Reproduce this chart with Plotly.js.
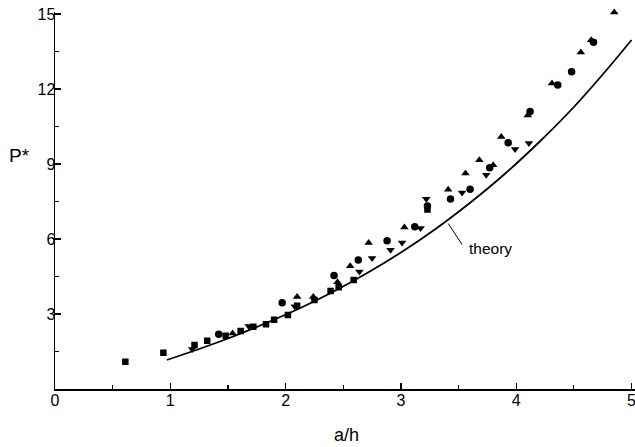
<!DOCTYPE html>
<html>
<head>
<meta charset="utf-8">
<script src="https://cdn.plot.ly/plotly-3.0.1.min.js"></script>
<style>
  html, body { margin: 0; padding: 0; background: #fff; }
  #chart { width: 635px; height: 447px; }
</style>
</head>
<body>
<div id="chart"></div>
<script>
// Measured buckling load P* against aspect ratio a/h, four specimen sets
var squareX = [0.61, 0.94, 1.21, 1.32, 1.48, 1.61, 1.72, 1.83, 1.90, 2.02, 2.10, 2.25, 2.39, 2.46, 2.59, 3.23];
var squareY = [1.09, 1.45, 1.76, 1.93, 2.13, 2.32, 2.49, 2.59, 2.77, 2.96, 3.33, 3.56, 3.92, 4.07, 4.36, 7.18];

var circleX = [1.42, 1.97, 2.42, 2.63, 2.88, 3.12, 3.23, 3.43, 3.60, 3.77, 3.93, 4.12, 4.36, 4.48, 4.67];
var circleY = [2.19, 3.45, 4.54, 5.16, 5.93, 6.49, 7.32, 7.60, 7.99, 8.85, 9.85, 11.10, 12.16, 12.69, 13.87];

var upX = [1.54, 2.10, 2.24, 2.45, 2.56, 2.72, 3.03, 3.41, 3.56, 3.68, 3.80, 3.87, 4.10, 4.31, 4.56, 4.65, 4.85];
var upY = [2.23, 3.69, 3.69, 4.28, 4.92, 5.85, 6.47, 7.98, 8.63, 9.16, 8.96, 10.09, 10.95, 12.23, 13.47, 13.96, 15.07];

var downX = [1.19, 1.68, 2.08, 2.64, 2.75, 2.91, 3.01, 3.17, 3.22, 3.53, 3.74, 3.99, 4.11];
var downY = [1.59, 2.51, 3.30, 4.69, 5.23, 5.56, 5.85, 6.43, 7.60, 7.85, 8.56, 9.59, 9.83];

// Theoretical curve
var theoryX = [0.97, 1.2, 1.5, 1.8, 2.1, 2.4, 2.7, 3.0, 3.3, 3.6, 3.9, 4.2, 4.5, 4.8, 5.0];
var theoryY = [1.16, 1.52, 2.02, 2.58, 3.18, 3.86, 4.62, 5.46, 6.40, 7.45, 8.60, 9.88, 11.28, 12.85, 13.96];

var xTicks = [0, 1, 2, 3, 4, 5];
var yTicks = [3, 6, 9, 12, 15];

function pts(x, y, symbol, size) {
  return {
    x: x, y: y, type: 'scatter', mode: 'markers', cliponaxis: false,
    marker: { symbol: symbol, size: size, color: '#000', line: { width: 0 } },
    hoverinfo: 'x+y', showlegend: false
  };
}

var traces = [
  {
    x: theoryX, y: theoryY, type: 'scatter', mode: 'lines',
    line: { color: '#000', width: 1.8, shape: 'spline', smoothing: 0.6 },
    showlegend: false, hoverinfo: 'skip'
  },
  pts(squareX, squareY, 'square', 6.5),
  pts(circleX, circleY, 'circle', 7.5),
  pts(upX, upY, 'triangle-up', 7.5),
  pts(downX, downY, 'triangle-down', 7.5)
];

var fontFamily = 'Liberation Sans, Arial, sans-serif';
var axisFont = { family: fontFamily, size: 16, color: '#000' };

var layout = {
  width: 635, height: 447,
  margin: { l: 55, r: 0, t: 12, b: 58 },
  paper_bgcolor: '#fff', plot_bgcolor: '#fff',
  showlegend: false,
  xaxis: {
    range: [0, 5.03], tickvals: xTicks, ticktext: xTicks.map(String),
    showline: true, linecolor: '#000', linewidth: 1.5,
    ticks: 'inside', ticklen: 6, tickwidth: 1.3, tickcolor: '#000',
    minor: { tickvals: [0.5, 1.5, 2.5, 3.5, 4.5], ticks: 'inside', ticklen: 4, tickwidth: 1.2, tickcolor: '#000' },
    showgrid: false, zeroline: false, tickfont: axisFont, fixedrange: true,
    ticklabelstandoff: -4, ticklabeloverflow: 'allow'
  },
  yaxis: {
    range: [0, 15.08], tickvals: yTicks, ticktext: yTicks.map(String),
    showline: true, linecolor: '#000', linewidth: 1.5,
    ticks: 'inside', ticklen: 6, tickwidth: 1.3, tickcolor: '#000',
    minor: { tickvals: [1.5, 4.5, 7.5, 10.5, 13.5], ticks: 'inside', ticklen: 4, tickwidth: 1.2, tickcolor: '#000' },
    showgrid: false, zeroline: false, tickfont: axisFont, fixedrange: true,
    ticklabelstandoff: -5, ticklabeloverflow: 'allow'
  },
  shapes: [
    // leader from the curve to its label
    { type: 'line', xref: 'x', yref: 'y', x0: 3.41, y0: 6.62, x1: 3.53, y1: 5.78,
      line: { color: '#000', width: 1 } }
  ],
  annotations: [
    { text: 'theory', xref: 'x', yref: 'y', x: 3.57, y: 5.64, xanchor: 'left', yanchor: 'middle',
      showarrow: false, font: { family: fontFamily, size: 15.5, color: '#000' } },
    { text: 'P*', xref: 'paper', yref: 'paper', x: -0.083, y: 0.62, xanchor: 'left', yanchor: 'middle',
      showarrow: false, font: { family: fontFamily, size: 19, color: '#000' } },
    { text: 'a/h', xref: 'paper', yref: 'paper', x: 0.503, y: -0.123, xanchor: 'center', yanchor: 'middle',
      showarrow: false, font: { family: fontFamily, size: 18, color: '#000' } }
  ]
};

Plotly.newPlot('chart', traces, layout, { displayModeBar: false, staticPlot: true });
</script>
</body>
</html>
